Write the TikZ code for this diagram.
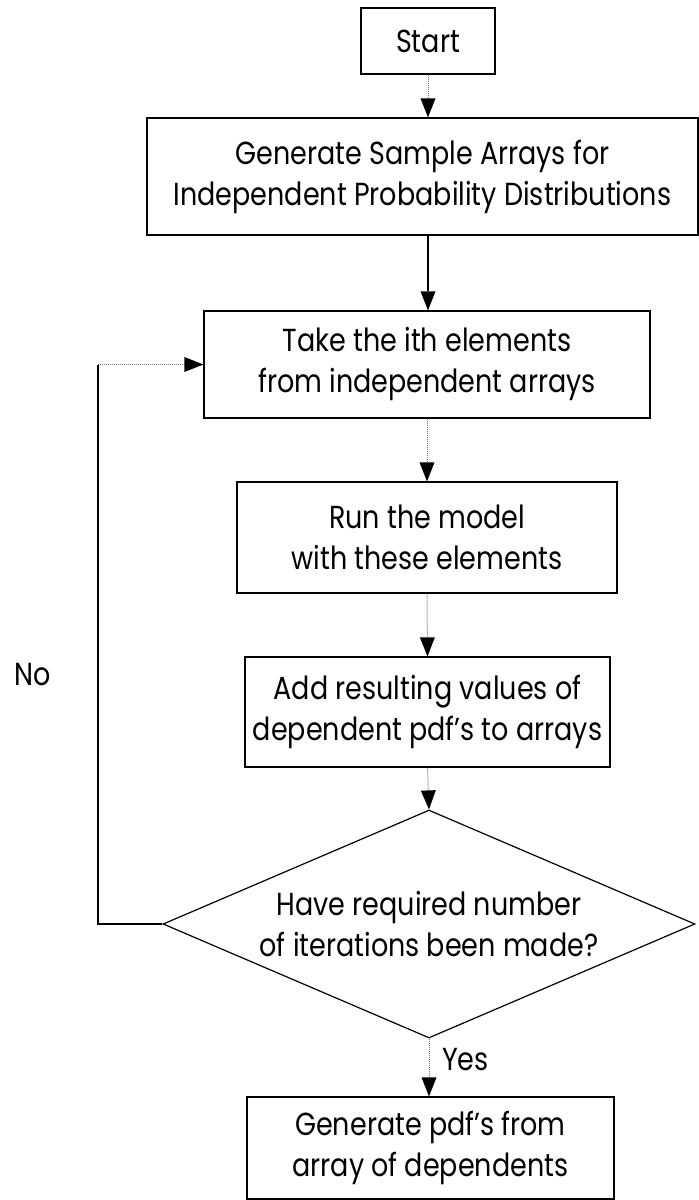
\documentclass[tikz,border=0pt]{standalone}
\usepackage{fontspec}
\setmainfont{Poppins}
\usetikzlibrary{arrows.meta,shapes.geometric}
% taller lettering for the box texts
\newcommand{\tall}[1]{\scalebox{1}[1.18]{#1}}
\begin{document}
\begin{tikzpicture}[x=1pt,y=1pt,
  every node/.style={font=\fontsize{27}{41}\selectfont, align=center, inner sep=0pt},
  stepbox/.style={draw=black, line width=1.2pt, rectangle},
  decision/.style={draw=black, line width=1.2pt, diamond, aspect=2.333},
  link/.style={draw=black!55, line width=1pt, densely dotted,
    -{Triangle[length=19pt,width=15pt,fill=black,line width=0pt]}},
  solidlink/.style={draw=black, line width=1.1pt,
    -{Triangle[length=19pt,width=15pt,fill=black,line width=0pt]}},
  lbl/.style={font=\fontsize{27}{32}\selectfont}]
\useasboundingbox (0,0) rectangle (699,-1200);

% process boxes
\node[stepbox, minimum width=134pt, minimum height=66pt] (start) at (428,-41) {\tall{Start}};
\node[stepbox, minimum width=551pt, minimum height=117pt] (gen) at (422.5,-176.5)
  {\tall{Generate Sample Arrays for}\\\tall{Independent Probability Distributions}};
\node[stepbox, minimum width=446pt, minimum height=107pt] (take) at (427,-364.5)
  {\tall{Take the ith elements}\\\tall{from independent arrays}};
\node[stepbox, minimum width=380pt, minimum height=111pt] (run) at (427,-537.5)
  {\tall{Run the model}\\\tall{with these elements}};
\node[stepbox, minimum width=365pt, minimum height=110pt] (add) at (427.5,-712)
  {\tall{Add resulting values of}\\\tall{dependent pdf's to arrays}};
\node[decision, minimum width=532pt, minimum height=228pt] (check) at (429,-924)
  {\tall{Have required number}\\\tall{of iterations been made?}};
\node[stepbox, minimum width=367pt, minimum height=102pt] (out) at (430.5,-1148)
  {\tall{Generate pdf's from}\\\tall{array of dependents}};

% main flow
\draw[link] (start.south) -- (start.south |- gen.north);
\draw[solidlink] (start.south |- gen.south) -- (start.south |- take.north);
\draw[link] (take.south) -- (run.north);
\draw[link] (run.south) -- (add.north);
\draw[link] (add.south) -- (check.north);
\draw[link] (check.south) -- (check.south |- out.north);
\node[lbl, anchor=west] (yes) at (442,-1060) {\tall{Yes}};

% loop back when more iterations are needed
\coordinate (corner) at (98,-364.5);
\draw[black, line width=1.1pt] (check.west) -| (corner);
\draw[link] (corner) -- (take.west);
\node[lbl, anchor=west] (no) at (14,-675) {\tall{No}};
\end{tikzpicture}
\end{document}
